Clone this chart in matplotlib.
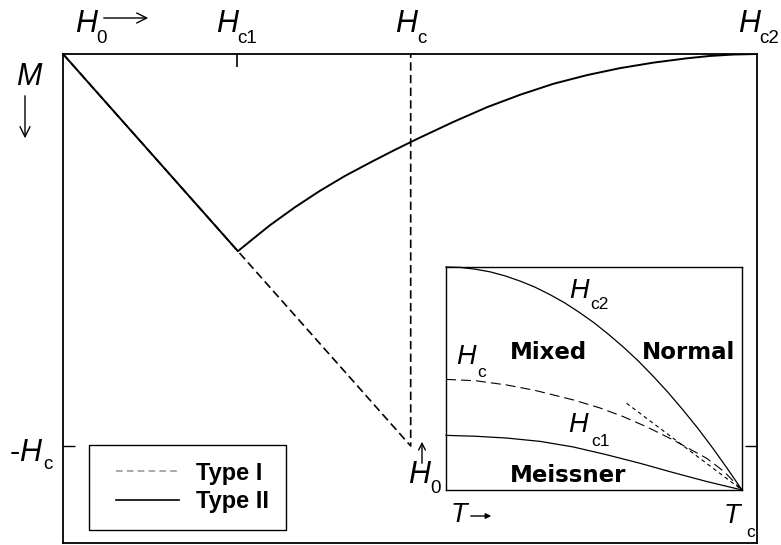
import matplotlib
matplotlib.use('Agg')
import matplotlib.pyplot as plt
from matplotlib.lines import Line2D
from matplotlib.legend_handler import HandlerLine2D

W, H = 781, 545

# main panel: M against applied field H0, in units of Hc2
hc1 = 0.251
hc = 0.501
type1_h = [0.0, 0.501, 0.501]
type1_m = [0.0, -0.501, 0.0]
type2_h = [0.0, 0.252, 0.270, 0.298, 0.334, 0.370, 0.406, 0.442, 0.476, 0.500,
           0.514, 0.562, 0.611, 0.659, 0.707, 0.755, 0.803, 0.851, 0.899, 0.932, 0.966, 1.0]
type2_m = [0.0, -0.252, -0.239, -0.219, -0.196, -0.175, -0.156, -0.139, -0.1235, -0.113,
           -0.107, -0.087, -0.068, -0.052, -0.038, -0.027, -0.018, -0.011, -0.0055, -0.0025,
           -0.0007, 0.0]

# inset: phase diagram, T/Tc against H/Hc2(0)
hc2_t = [0.0, 0.05, 0.1, 0.15, 0.2, 0.25, 0.3, 0.35, 0.4, 0.45, 0.5, 0.55, 0.6,
         0.65, 0.7, 0.75, 0.8, 0.85, 0.9, 0.95, 1.0]
hc2_h = [1.0, 0.998, 0.99, 0.978, 0.96, 0.937, 0.91, 0.877, 0.84, 0.797, 0.75, 0.697,
         0.64, 0.578, 0.51, 0.438, 0.36, 0.278, 0.19, 0.097, 0.0]
hcin_t = [0.0, 0.1, 0.205, 0.3, 0.43, 0.52, 0.599, 0.68, 0.768, 0.881, 0.94, 1.0]
hcin_h = [0.496, 0.490, 0.471, 0.447, 0.404, 0.368, 0.329, 0.282, 0.224, 0.142, 0.082, 0.0]
hc1_t = [0.0, 0.1, 0.205, 0.318, 0.43, 0.543, 0.655, 0.768, 0.881, 1.0]
hc1_h = [0.245, 0.241, 0.233, 0.218, 0.193, 0.158, 0.12, 0.078, 0.038, 0.0]
tangent_t = [0.61, 1.0]
tangent_h = [0.389, 0.0]

SANS = 'Liberation Sans'


def fpos(x, y):
    """pixel position (from top-left) -> figure fraction"""
    return x / W, 1 - y / H


def hlabel(fig, x, y, sub, sx, sy, size=22, subsize=13.5, letter='H'):
    fig.text(*fpos(x, y), letter, family=SANS, style='italic', fontsize=size,
             ha='left', va='baseline')
    fig.text(*fpos(sx, sy), sub, family=SANS, fontsize=subsize,
             ha='left', va='baseline')


def arrow(fig, x1, y1, x2, y2, style='->', scale=18, lw=1.0):
    fig.add_artist(matplotlib.patches.FancyArrowPatch(
        fpos(x1, y1), fpos(x2, y2), transform=fig.transFigure,
        arrowstyle=style, mutation_scale=scale, lw=lw, color='black'))


fig = plt.figure(figsize=(W / 100, H / 100), dpi=100)
ax = fig.add_axes([63 / W, 1 - 543 / H, 694 / W, 489 / H])

ax.plot(type1_h, type1_m, color='black', lw=1.2, ls=(0, (5, 2.6)))
ax.plot(type2_h, type2_m, color='black', lw=1.4, solid_capstyle='butt')
ax.set_xlim(0, 1)
ax.set_ylim(-0.625, 0)
for s in ax.spines.values():
    s.set_linewidth(1.3)

ax.set_xticks([hc1])
ax.set_yticks([-hc])
ax.tick_params(axis='x', bottom=False, top=True, labelbottom=False, labeltop=False,
               direction='in', length=9, width=1.2)
ax.tick_params(axis='y', left=True, right=True, labelleft=False, labelright=False,
               direction='in', length=8.5, width=1.0)

legend_handles = [Line2D([], [], color='#9a9a9a', lw=1.2, ls=(0, (4, 2.5))),
                  Line2D([], [], color='black', lw=1.2)]
leg = ax.legend(legend_handles, ['Type I', 'Type II'], loc='lower left',
                bbox_to_anchor=fpos(89, 530), bbox_transform=fig.transFigure,
                prop={'family': SANS, 'weight': 'bold', 'size': 17},
                handlelength=3.1, handletextpad=0.75, borderpad=0.7,
                labelspacing=0.25, borderaxespad=0, fancybox=False, framealpha=1,
                handler_map={Line2D: HandlerLine2D(xpad=0.45)})
leg.get_frame().set_edgecolor('black')
leg.get_frame().set_linewidth(1.0)

# inset phase diagram
ax_in = fig.add_axes([446 / W, 1 - 490 / H, 296 / W, 223 / H])
ax_in.plot(hc2_t, hc2_h, color='black', lw=0.9, clip_on=False)
ax_in.plot(hcin_t, hcin_h, color='black', lw=0.8, ls=(0, (9, 4.5)), clip_on=False)
ax_in.plot(hc1_t, hc1_h, color='black', lw=0.9, clip_on=False)
ax_in.plot(tangent_t, tangent_h, color='black', lw=0.8, ls=(0, (3.5, 3)), clip_on=False)
ax_in.set_xlim(0, 1)
ax_in.set_ylim(0, 1)
ax_in.set_xticks([])
ax_in.set_yticks([])
for s in ax_in.spines.values():
    s.set_linewidth(1.0)

region = dict(family='DejaVu Sans', weight='bold', fontsize=16.5, ha='center', va='baseline')
fig.text(*fpos(548, 359), 'Mixed', **region)
fig.text(*fpos(689, 359), 'Normal', **region)
fig.text(*fpos(568, 482), 'Meissner', **region)

# labels of the main panel
hlabel(fig, 75, 32, '0', 96, 43)
arrow(fig, 101, 18, 151, 18)
hlabel(fig, 216, 32, 'c1', 237, 43)
hlabel(fig, 395, 32, 'c', 417, 43)
hlabel(fig, 738, 32, 'c2', 759, 43)
fig.text(*fpos(16, 85), 'M', family=SANS, style='italic', fontsize=22, ha='left', va='baseline')
arrow(fig, 25, 93, 25, 141)
fig.text(*fpos(10, 461), '-', family=SANS, fontsize=22, ha='left', va='baseline')
hlabel(fig, 19, 461, 'c', 43, 469)
arrow(fig, 422, 466, 422, 439, scale=12)
hlabel(fig, 408, 483, '0', 430, 493)

# labels of the inset
hlabel(fig, 569, 298, 'c2', 590, 309, size=19.5, subsize=12.5)
hlabel(fig, 456, 364, 'c', 477, 377, size=19.5, subsize=12.5)
hlabel(fig, 568, 432, 'c1', 591, 446, size=19.5, subsize=12.5)
fig.text(*fpos(451, 522), 'T', family=SANS, style='italic', fontsize=19.5, ha='left', va='baseline')
arrow(fig, 468, 516, 494, 516, style='-|>', scale=8, lw=1.0)
hlabel(fig, 724, 523, 'c', 746, 537, size=19.5, subsize=12.5, letter='T')

fig.savefig('out.png', dpi=100)
